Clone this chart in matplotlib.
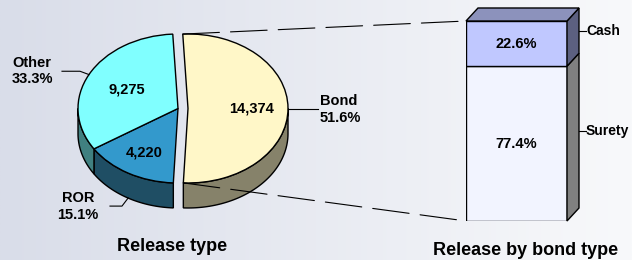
import numpy as np
import matplotlib.pyplot as plt
from matplotlib.colors import LinearSegmentedColormap
from matplotlib.patches import ConnectionPatch

plt.rcParams['font.family'] = ['Liberation Sans', 'DejaVu Sans']

# data
release_types = ["Bond", "ROR", "Other"]
release_counts = [14374, 4220, 9275]
bond_types = ["Surety", "Cash"]
bond_shares = [77.4, 22.6]

# colours
top_colors = ["#fff7c8", "#3399cc", "#80ffff"]
side_colors = ["#86826a", "#1f4e64", "#408080"]
bar_colors = ["#f2f4ff", "#c0c8ff"]
bar_side_colors = ["#808080", "#5c6080"]
bar_top_color = "#8c92bc"

W, H = 632, 260
fig = plt.figure(figsize=(W / 100, H / 100), dpi=100)

# background gradient
bg = fig.add_axes([0, 0, 1, 1])
bg_cmap = LinearSegmentedColormap.from_list("bg", ["#d9dde9", "#f8f9fb"])
bg.imshow(np.linspace(0, 1, 256)[None, :], cmap=bg_cmap, aspect="auto", extent=[0, 1, 0, 1])
bg.axis("off")

# ---- pie (1 data unit = rx px wide, ry px tall) ----
cx, cy, rx, ry = 178, 108.5, 100, 74.5
depth = 25 / ry
start = 93
explode = [0.1, 0, 0]

ax = fig.add_axes([0, 0, 1, 1])
ax.patch.set_alpha(0)

fracs = np.array(release_counts) / sum(release_counts)
ends = start - 360 * np.cumsum(fracs)
begins = ends + 360 * fracs
mids = (ends + begins) / 2
shift = [(e * np.cos(np.radians(m)), e * np.sin(np.radians(m))) for e, m in zip(explode, mids)]

# side walls of the front half (angles -180..0)
for i in range(len(release_counts)):
    lo, hi = max(ends[i], -180), min(begins[i], 0)
    if hi <= lo:
        continue
    t = np.radians(np.linspace(lo, hi, 80))
    sx, sy = shift[i]
    xs = np.concatenate([sx + np.cos(t), (sx + np.cos(t))[::-1]])
    ys = np.concatenate([sy + np.sin(t), (sy + np.sin(t) - depth)[::-1]])
    ax.fill(xs, ys, facecolor=side_colors[i], edgecolor="black", linewidth=1.0)

ax.pie(release_counts, explode=explode, startangle=start, counterclock=False,
       colors=top_colors, wedgeprops=dict(edgecolor="black", linewidth=1.0))
ax.set_aspect("auto")
ax.set_xlim(-cx / rx, (W - cx) / rx)
ax.set_ylim(-(H - cy) / ry, cy / ry)
ax.axis("off")

# values on the slices
inner_dist = [0.64, 0.68, 0.57]
for i, v in enumerate(release_counts):
    a = np.radians(mids[i])
    ax.text(shift[i][0] + inner_dist[i] * np.cos(a), shift[i][1] + inner_dist[i] * np.sin(a),
            f"{v:,}", ha="center", va="center", fontsize=10.5, fontweight="bold")

# outside labels with leaders
pct = [f"{100 * f:.1f}%" for f in fracs]
ma = np.radians(mids)
# Bond
ax.plot([shift[0][0] + 1, 1.4], [0, 0], color="black", lw=0.8)
ax.text(1.42, -0.01, f"{release_types[0]}\n{pct[0]}", ha="left", va="center",
        fontsize=10.5, fontweight="bold", linespacing=1.25)
# ROR
ax.plot([-0.68, -0.56, np.cos(ma[1])], [-1.31, -1.31, np.sin(ma[1]) - depth], color="black", lw=0.8)
ax.text(-1.0, -1.315, f"{release_types[1]}\n{pct[1]}", ha="center", va="center",
        fontsize=10.5, fontweight="bold", linespacing=1.25)
# Other
ax.plot([-1.16, -0.98, np.cos(ma[2])], [0.50, 0.50, np.sin(ma[2])], color="black", lw=0.8)
ax.text(-1.66, 0.503, f"{release_types[2]}\n{pct[2]}", ha="left", va="center",
        fontsize=10.5, fontweight="bold", linespacing=1.25)

# ---- 3D stacked bar ----
axb = fig.add_axes([466 / W, 39 / H, 101 / W, 200 / H])
axb.patch.set_alpha(0)
dxb, dyb = 12 / 101, 6.5
bottoms = np.concatenate([[0], np.cumsum(bond_shares)[:-1]])
axb.bar(0, bond_shares, bottom=bottoms, width=1, color=bar_colors, edgecolor="black", linewidth=1.0)
tops = bottoms + np.array(bond_shares)
for i in range(len(bond_shares)):
    axb.fill([0.5, 0.5 + dxb, 0.5 + dxb, 0.5],
             [bottoms[i], bottoms[i] + dyb, tops[i] + dyb, tops[i]],
             facecolor=bar_side_colors[i], edgecolor="black", linewidth=1.0, clip_on=False)
    axb.text(0, (bottoms[i] + tops[i]) / 2, f"{bond_shares[i]:.1f}%", ha="center", va="center",
             fontsize=10.5, fontweight="bold")
    ym = (bottoms[i] + tops[i]) / 2 + dyb
    axb.plot([0.5 + dxb, 0.5 + dxb + 0.07], [ym, ym], color="black", lw=0.8, clip_on=False)
    axb.text(0.5 + dxb + 0.07, ym, bond_types[i], ha="left", va="center",
             fontsize=10, fontweight="bold", clip_on=False)
axb.fill([-0.5, 0.5, 0.5 + dxb, -0.5 + dxb], [tops[-1], tops[-1], tops[-1] + dyb, tops[-1] + dyb],
         facecolor=bar_top_color, edgecolor="black", linewidth=1.0, clip_on=False)
axb.set_xlim(-0.5, 0.5)
axb.set_ylim(0, 100)
axb.axis("off")

# dashed connectors from the Bond slice to the bar
sb = np.radians([begins[0], ends[0]])
for a, yb in zip(sb, [tops[-1], 0]):
    con = ConnectionPatch(xyA=(shift[0][0] + np.cos(a), shift[0][1] + np.sin(a)), coordsA=ax.transData,
                          xyB=(-0.5, yb), coordsB=axb.transData,
                          color="black", lw=0.8, linestyle=(0, (33, 10)), zorder=5)
    fig.add_artist(con)

fig.text(172 / W, 1 - 251 / H, "Release type", ha="center", va="baseline", fontsize=13, fontweight="bold")
fig.text(526 / W, 1 - 255 / H, "Release by bond type", ha="center", va="baseline", fontsize=13, fontweight="bold")

fig.savefig("out.png", dpi=100)
